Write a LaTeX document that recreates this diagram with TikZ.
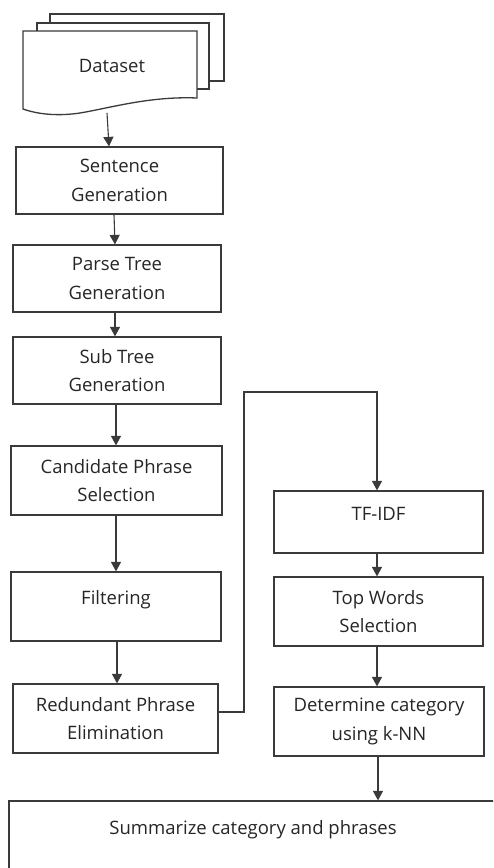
\documentclass[tikz,border=0pt]{standalone}
\usepackage{fontspec}
\setmainfont{Open Sans}
\usetikzlibrary{arrows.meta,calc}
\definecolor{ln}{HTML}{3A3A3A}
\definecolor{tx}{HTML}{262626}
\begin{document}
\begin{tikzpicture}[x=1pt,y=-1pt,
  box/.style={draw=ln,line width=1.2pt,fill=white,inner sep=0pt,align=center,
    text=tx,font=\fontsize{18.5}{28.5}\selectfont},
  arr/.style={draw=ln,line width=1.1pt,-{Triangle[length=9.5pt,width=10pt]}},
  page/.style={draw=ln,line width=1.3pt,fill=white}]
\useasboundingbox (0,0) rectangle (493,868);
% Dataset multi-document
\draw[page] (50,23) -- (50,14) -- (224,14) -- (224,81) -- (209,81);
\draw[page] (37,31) -- (37,23) -- (209,23) -- (209,89) -- (197,89);
\draw[page] (23,31) -- (197,31) -- (197,98)
  .. controls (150,96) and (110,108) .. (80,113)
  .. controls (60,116) and (40,115) .. (23,109) -- cycle;
\node[text=tx,font=\fontsize{18.5}{28.5}\selectfont] (data) at (112,66) {Dataset};
\coordinate (dbot) at (107,113);
% left column
\node[box,minimum width=207pt,minimum height=67pt] (sent) at (119.5,180.5) {Sentence\\Generation};
\node[box,minimum width=208pt,minimum height=67pt] (parse) at (117,278.5) {Parse Tree\\Generation};
\node[box,minimum width=208pt,minimum height=67pt] (sub) at (117,370.5) {Sub Tree\\Generation};
\node[box,minimum width=211pt,minimum height=69pt] (cand) at (116.5,480.5) {Candidate Phrase\\Selection};
\node[box,minimum width=210pt,minimum height=69pt,text height=13pt,text depth=17pt] (filt) at (116,606.5) {Filtering};
\node[box,minimum width=205pt,minimum height=69pt] (red) at (115.5,718.5) {Redundant Phrase\\Elimination};
% right column
\node[box,minimum width=209pt,minimum height=62pt,text height=13pt,text depth=17pt] (tfidf) at (378.5,522) {TF-IDF};
\node[box,minimum width=209pt,minimum height=69pt] (top) at (378.5,611.5) {Top Words\\Selection};
\node[box,minimum width=210pt,minimum height=69pt] (det) at (379,721.5) {Determine category\\using k-NN};
% summary box (clipped by picture edge)
\begin{scope}
\clip (0,0) rectangle (493,868);
\node[box,minimum width=488pt,minimum height=80pt,text height=13pt,text depth=26pt] (summ) at (253,841) {Summarize category and phrases};
\end{scope}
% connectors
\draw[arr] (dbot) -- (sent.north -| 109,0);
\draw[arr] (sent.south -| 114,0) -- (parse.north -| 115,0);
\draw[arr] (parse.south -| 115,0) -- (sub.north -| 115,0);
\draw[arr] (sub.south -| 116,0) -- (cand.north -| 116,0);
\draw[arr] (cand.south -| 116,0) -- (filt.north -| 116,0);
\draw[arr] (filt.south -| 117,0) -- (red.north -| 117,0);
\draw[arr] ([yshift=6.5pt]red.east) -| (244,392) -| (tfidf.north -| 377,0);
\draw[arr] (tfidf.south -| 377,0) -- (top.north -| 377,0);
\draw[arr] (top.south -| 377,0) -- (det.north -| 377,0);
\draw[arr] (det.south -| 378,0) -- (summ.north -| 378,0);
\end{tikzpicture}
\end{document}
